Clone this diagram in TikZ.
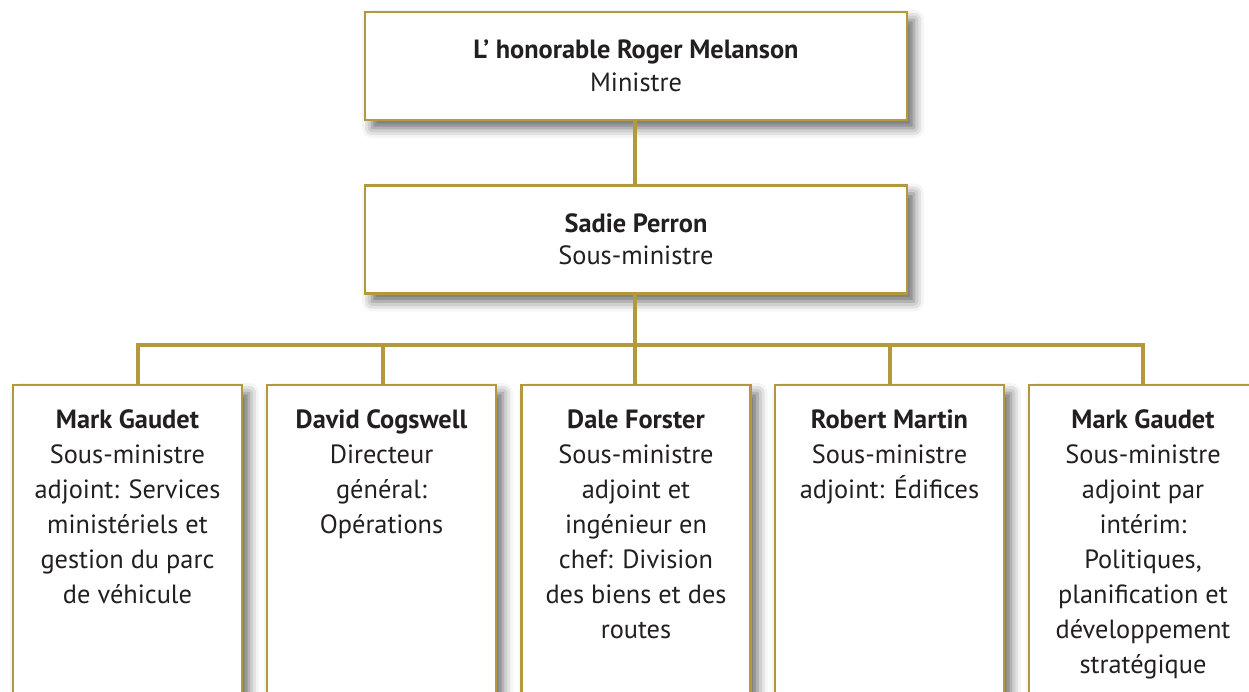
\documentclass[tikz,border=0pt]{standalone}
\usepackage{fontspec}
\setmainfont{PT Sans}
\usetikzlibrary{shadows.blur}
\definecolor{gold}{RGB}{179,152,61}
\definecolor{ink}{RGB}{35,31,32}
\tikzset{
  box/.style={draw=gold, line width=1.4pt, fill=white,
    blur shadow={shadow xshift=.14cm, shadow yshift=-.16cm, shadow blur radius=.2cm, shadow opacity=60}},
  headbox/.style={box, minimum width=10.84cm, minimum height=2.16cm, inner sep=0pt,
    align=center, text=ink, font=\fontsize{15}{18.5}\selectfont},
  colbox/.style={box, minimum width=4.58cm, minimum height=6.74cm},
  coltext/.style={anchor=north, align=center, inner sep=0pt, text=ink,
    font=\fontsize{15}{19.9}\selectfont},
  link/.style={draw=gold, line width=2.6pt}
}
\begin{document}
\begin{tikzpicture}
  \useasboundingbox (0,0) rectangle (24.98,13.84);
  \clip (0,0) rectangle (24.98,13.84);
  % head boxes
  \node[headbox] (min) at (12.72,12.52) {\textbf{L’ honorable Roger Melanson}\\Ministre};
  \node[headbox] (sm) at (12.72,9.05) {\textbf{Sadie Perron}\\Sous-ministre};
  % columns
  \node[colbox] (b1) at (2.55,2.77) {};
  \node[colbox] (b2) at (7.63,2.77) {};
  \node[colbox] (b3) at (12.72,2.77) {};
  \node[colbox] (b4) at (17.79,2.77) {};
  \node[colbox] (b5) at (22.87,2.77) {};
  \node[coltext] (t1) at ([yshift=-.52cm]b1.north) {\textbf{Mark Gaudet}\\Sous-ministre\\adjoint: Services\\ministériels et\\gestion du parc\\de véhicule};
  \node[coltext] (t2) at ([yshift=-.52cm]b2.north) {\textbf{David Cogswell}\\Directeur\\général:\\Opérations};
  \node[coltext] (t3) at ([yshift=-.52cm]b3.north) {\textbf{Dale Forster}\\Sous-ministre\\adjoint et\\ingénieur en\\chef: Division\\des biens et des\\routes};
  \node[coltext] (t4) at ([yshift=-.52cm]b4.north) {\textbf{Robert Martin}\\Sous-ministre\\adjoint: Édifices};
  \node[coltext] (t5) at ([yshift=-.52cm,xshift=-.01cm]b5.north) {\textbf{Mark Gaudet}\\Sous-ministre\\adjoint par\\intérim:\\Politiques,\\planification et\\développement\\stratégique};
  % bus
  \coordinate (bus) at (12.7,6.94);
  \coordinate (j1) at (2.76,6.94);
  \coordinate (j2) at (7.66,6.94);
  \coordinate (j4) at (17.8,6.94);
  \coordinate (j5) at (22.86,6.94);
  \draw[link] (min.south -| bus) -- (sm.north -| bus);
  \draw[link] (sm.south -| bus) -- (b3.north -| bus);
  \draw[link] (j1 |- b1.north) -- (j1) -- (j5) -- (j5 |- b5.north);
  \draw[link] (j2) -- (j2 |- b2.north);
  \draw[link] (j4) -- (j4 |- b4.north);
\end{tikzpicture}
\end{document}
